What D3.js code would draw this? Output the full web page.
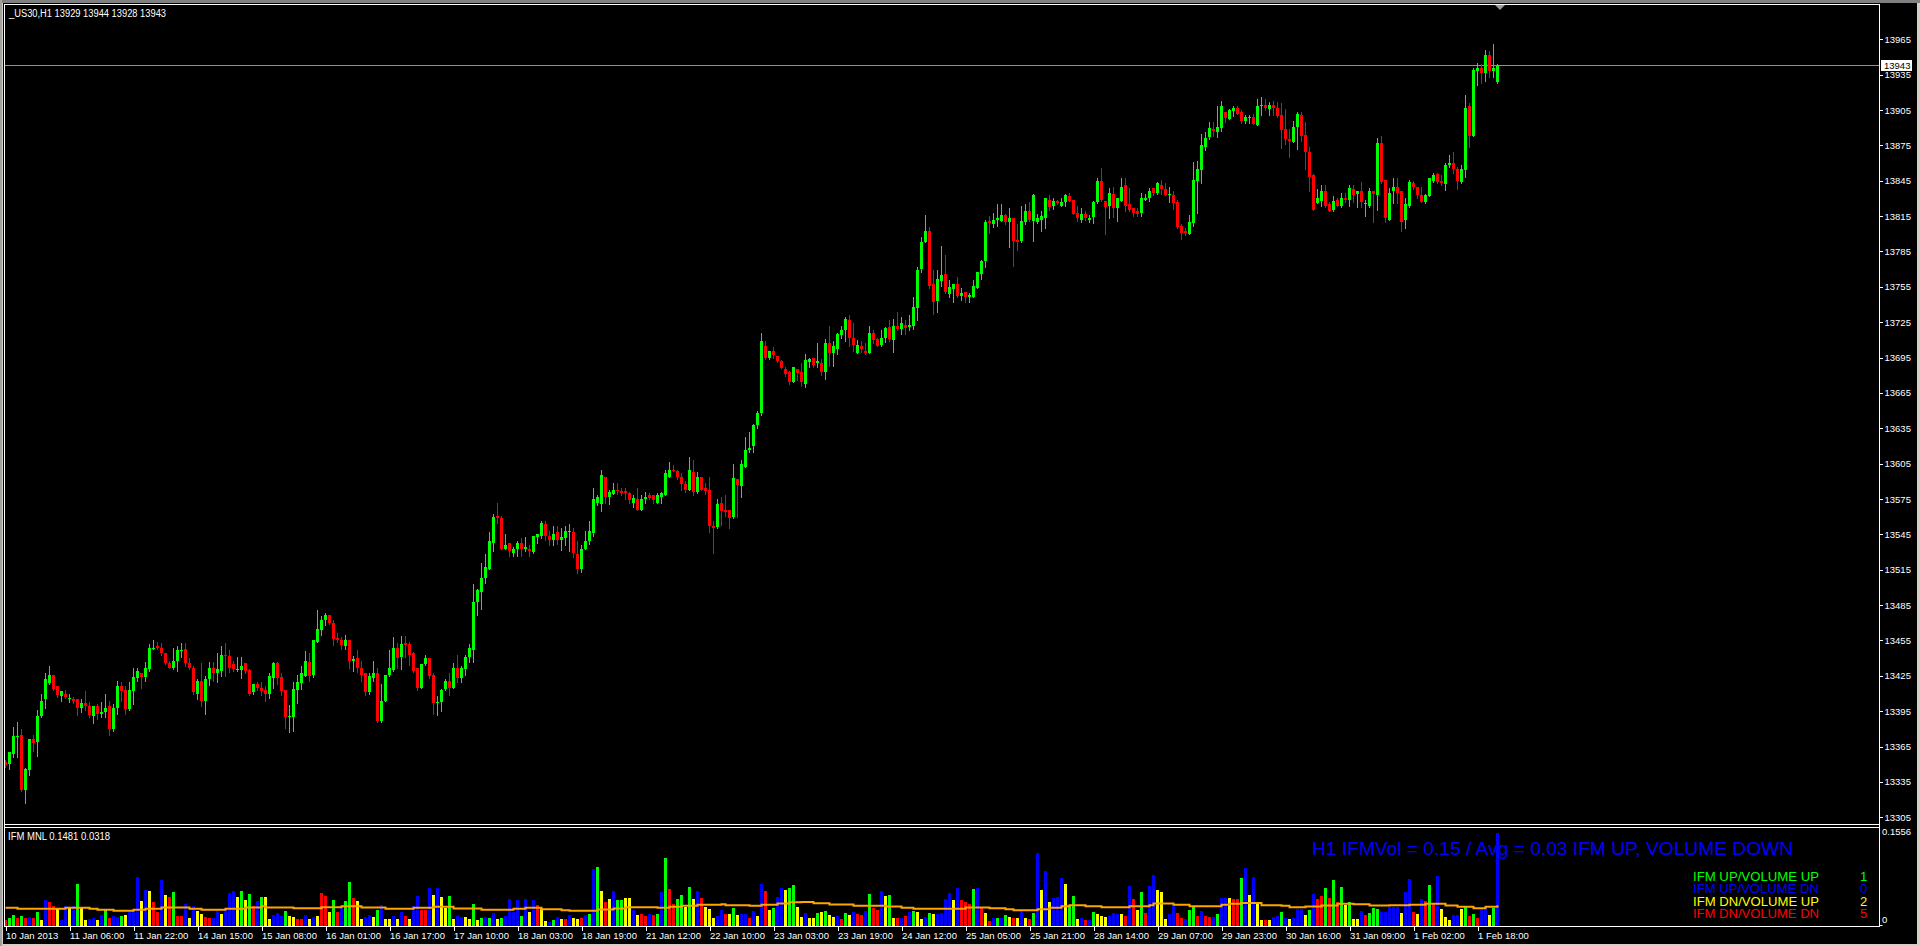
<!DOCTYPE html>
<html><head><meta charset="utf-8">
<script src="https://cdn.jsdelivr.net/npm/d3@7"></script>
<style>
html,body{margin:0;padding:0;background:#d4d0c8;overflow:hidden;}
svg{display:block;}
text{font-family:"Liberation Sans",Arial,sans-serif;}
</style></head><body>
<svg id="chart" width="1920" height="946"></svg>
<script>
// ---------------- DATA ----------------
const symbolTitle = "_US30,H1  13929 13944 13928 13943";
const indicatorTitle = "IFM MNL 0.1481 0.0318";
const statusText = "H1 IFMVol = 0.15 / Avg = 0.03 IFM UP, VOLUME DOWN";
const currentPrice = 13943;

const opens = [
13352,13350,13359,13373,13375,13328,13345,13371,13369,13391,
13405,13419,13426,13416,13408,13410,13405,13405,13405,13398,
13402,13399,13391,13399,13393,13394,13399,13380,13398,13416,
13413,13397,13412,13423,13427,13424,13431,13448,13450,13449,
13444,13436,13432,13438,13446,13448,13436,13432,13410,13421,
13404,13422,13432,13427,13429,13443,13442,13435,13430,13430,
13436,13430,13411,13418,13415,13413,13410,13423,13436,13424,
13413,13390,13390,13413,13419,13425,13437,13426,13454,13464,
13472,13477,13470,13457,13455,13450,13455,13438,13440,13432,
13427,13411,13423,13427,13387,13404,13426,13430,13449,13441,
13453,13452,13444,13432,13415,13435,13440,13426,13402,13403,
13414,13421,13415,13432,13423,13431,13441,13447,13488,13496,
13508,13516,13538,13561,13559,13533,13538,13529,13533,13538,
13533,13533,13530,13543,13544,13554,13544,13540,13547,13540,
13542,13547,13547,13528,13516,13533,13539,13546,13572,13571,
13594,13577,13579,13583,13582,13582,13580,13572,13575,13566,
13575,13578,13578,13572,13577,13578,13594,13600,13599,13594,
13588,13583,13598,13581,13594,13584,13583,13552,13551,13572,
13566,13566,13560,13592,13586,13602,13617,13620,13638,13648,
13705,13695,13701,13696,13692,13685,13683,13674,13685,13683,
13673,13691,13695,13690,13690,13683,13707,13699,13702,13714,
13718,13727,13712,13699,13705,13701,13699,13716,13711,13706,
13712,13721,13710,13722,13719,13723,13721,13722,13737,13770,
13793,13802,13757,13743,13760,13766,13749,13753,13757,13747,
13751,13746,13746,13754,13766,13777,13811,13808,13812,13811,
13816,13810,13813,13795,13794,13810,13819,13811,13810,13812,
13813,13829,13824,13828,13824,13827,13832,13829,13818,13812,
13817,13812,13814,13827,13845,13828,13824,13834,13822,13828,
13841,13825,13822,13819,13818,13829,13830,13839,13835,13841,
13838,13833,13833,13827,13807,13802,13800,13809,13845,13854,
13874,13882,13889,13886,13890,13903,13897,13904,13907,13903,
13896,13898,13899,13892,13908,13909,13906,13909,13907,13901,
13889,13880,13878,13891,13901,13884,13869,13850,13826,13828,
13836,13825,13820,13829,13824,13830,13829,13838,13834,13836,
13825,13824,13836,13833,13877,13846,13812,13836,13840,13836,
13812,13824,13843,13840,13833,13827,13832,13845,13851,13845,
13842,13858,13860,13855,13844,13854,13908,13883,13938,13941,
13936,13952,13938,13929];

const highs = [
13354,13360,13382,13386,13380,13347,13371,13375,13396,13410,
13427,13433,13426,13416,13412,13413,13410,13407,13405,13405,
13412,13403,13399,13401,13403,13410,13404,13401,13421,13420,
13416,13420,13432,13432,13427,13437,13452,13455,13454,13453,
13444,13438,13449,13450,13453,13453,13440,13433,13422,13436,
13425,13437,13437,13444,13450,13453,13447,13438,13441,13441,
13436,13431,13418,13420,13420,13416,13427,13437,13437,13427,
13413,13400,13420,13426,13433,13446,13444,13455,13481,13476,
13478,13477,13472,13461,13458,13460,13455,13442,13447,13438,
13427,13427,13438,13432,13418,13426,13447,13458,13453,13459,
13459,13454,13445,13432,13435,13443,13440,13427,13408,13414,
13422,13427,13436,13443,13433,13443,13452,13503,13499,13521,
13528,13547,13562,13572,13561,13545,13538,13534,13539,13542,
13543,13536,13544,13545,13556,13556,13548,13552,13552,13550,
13552,13554,13550,13539,13536,13548,13556,13584,13578,13600,
13594,13583,13589,13589,13584,13584,13581,13578,13584,13578,
13581,13580,13578,13580,13581,13600,13606,13604,13600,13597,
13590,13611,13608,13598,13594,13589,13594,13556,13575,13577,
13578,13566,13605,13592,13608,13628,13632,13639,13650,13716,
13709,13701,13704,13696,13693,13687,13684,13687,13685,13690,
13698,13695,13695,13707,13694,13711,13722,13709,13716,13722,
13729,13731,13724,13710,13709,13707,13722,13718,13712,13718,
13721,13727,13728,13734,13729,13727,13731,13746,13772,13797,
13816,13806,13769,13769,13790,13782,13761,13757,13763,13754,
13751,13750,13761,13768,13778,13812,13815,13818,13825,13825,
13817,13822,13813,13808,13824,13825,13827,13834,13817,13819,
13830,13833,13830,13829,13830,13834,13835,13829,13824,13822,
13819,13816,13828,13847,13856,13828,13839,13840,13830,13847,
13847,13839,13822,13822,13835,13834,13839,13839,13844,13846,
13843,13840,13836,13829,13808,13805,13816,13861,13862,13885,
13886,13895,13895,13908,13913,13903,13906,13908,13908,13905,
13901,13901,13902,13914,13916,13914,13912,13913,13912,13911,
13906,13889,13896,13903,13903,13895,13874,13851,13838,13841,
13841,13827,13832,13830,13835,13835,13841,13841,13836,13844,
13829,13839,13836,13881,13883,13846,13839,13847,13847,13836,
13830,13846,13845,13840,13840,13834,13847,13852,13852,13850,
13860,13867,13869,13857,13858,13918,13911,13941,13945,13944,
13956,13955,13961,13944];

const lows = [
13348,13346,13356,13356,13327,13317,13341,13361,13357,13390,
13398,13418,13413,13407,13404,13406,13403,13402,13392,13394,
13396,13390,13385,13388,13390,13390,13375,13378,13393,13404,
13393,13396,13401,13421,13415,13421,13429,13448,13448,13443,
13435,13432,13431,13429,13441,13433,13431,13410,13405,13399,
13393,13417,13421,13420,13425,13425,13428,13429,13429,13423,
13427,13409,13410,13413,13409,13404,13406,13415,13418,13409,
13381,13377,13378,13402,13414,13425,13421,13424,13454,13460,
13468,13469,13451,13454,13448,13448,13432,13429,13428,13421,
13409,13410,13421,13386,13386,13404,13425,13429,13432,13431,
13441,13434,13428,13413,13415,13434,13423,13393,13392,13395,
13413,13409,13415,13420,13420,13426,13437,13437,13477,13482,
13504,13516,13531,13555,13533,13533,13527,13527,13527,13527,
13531,13527,13529,13538,13542,13540,13536,13536,13537,13532,
13536,13531,13526,13512,13513,13533,13537,13544,13570,13565,
13572,13571,13579,13579,13578,13575,13572,13568,13566,13566,
13572,13575,13572,13572,13572,13578,13594,13599,13592,13583,
13581,13583,13578,13580,13583,13579,13547,13529,13550,13553,
13561,13550,13559,13560,13577,13602,13615,13615,13635,13646,
13694,13694,13695,13691,13686,13679,13673,13674,13676,13671,
13670,13687,13687,13687,13680,13677,13688,13688,13698,13712,
13709,13705,13701,13699,13700,13698,13699,13707,13705,13705,
13708,13709,13700,13718,13715,13715,13718,13719,13727,13768,
13793,13754,13732,13734,13756,13750,13746,13742,13746,13744,
13742,13742,13746,13754,13762,13772,13801,13806,13807,13811,
13808,13789,13773,13786,13793,13808,13811,13794,13809,13802,
13805,13820,13821,13825,13824,13824,13828,13817,13811,13810,
13812,13810,13809,13826,13828,13800,13813,13814,13811,13828,
13819,13819,13815,13815,13815,13829,13828,13833,13834,13834,
13833,13827,13821,13805,13796,13799,13800,13807,13818,13843,
13871,13880,13883,13882,13887,13895,13897,13900,13902,13894,
13894,13894,13893,13892,13901,13905,13901,13901,13899,13873,
13876,13865,13878,13872,13879,13855,13836,13820,13826,13824,
13823,13819,13819,13824,13823,13827,13824,13827,13823,13823,
13815,13823,13810,13820,13843,13810,13812,13826,13826,13802,
13805,13823,13838,13830,13827,13826,13832,13844,13843,13841,
13837,13857,13852,13838,13843,13848,13874,13883,13926,13928,
13930,13933,13933,13928];

const closes = [
13349,13360,13374,13374,13328,13346,13371,13368,13391,13404,
13422,13426,13414,13409,13412,13407,13406,13404,13398,13402,
13399,13392,13399,13393,13394,13398,13380,13398,13416,13412,
13397,13413,13424,13429,13424,13432,13449,13449,13449,13444,
13436,13432,13438,13447,13447,13436,13432,13411,13421,13404,
13422,13432,13427,13431,13443,13442,13432,13431,13431,13433,
13429,13410,13418,13415,13412,13410,13425,13436,13423,13412,
13390,13391,13414,13420,13427,13438,13425,13455,13465,13472,
13477,13470,13456,13455,13451,13455,13438,13439,13432,13426,
13411,13425,13427,13387,13404,13426,13432,13449,13440,13452,
13451,13443,13429,13415,13435,13440,13425,13402,13403,13413,
13421,13415,13432,13423,13432,13441,13449,13488,13498,13508,
13517,13539,13560,13559,13533,13536,13531,13533,13538,13533,
13534,13531,13544,13545,13555,13544,13540,13545,13540,13543,
13548,13548,13529,13516,13533,13539,13548,13575,13577,13595,
13577,13581,13583,13582,13580,13580,13574,13576,13566,13575,
13577,13576,13574,13578,13580,13597,13600,13599,13594,13588,
13583,13600,13581,13594,13583,13582,13552,13550,13571,13565,
13564,13559,13593,13587,13605,13617,13618,13638,13648,13709,
13695,13701,13697,13692,13686,13681,13674,13687,13682,13674,
13693,13694,13689,13692,13683,13707,13699,13705,13715,13718,
13728,13712,13706,13706,13702,13699,13716,13710,13705,13712,
13720,13711,13722,13719,13724,13720,13723,13738,13769,13793,
13802,13756,13742,13762,13765,13751,13755,13757,13747,13750,
13746,13748,13756,13768,13777,13810,13809,13812,13813,13816,
13810,13813,13794,13793,13811,13819,13812,13833,13813,13815,
13830,13823,13828,13826,13827,13833,13828,13817,13813,13817,
13813,13813,13827,13845,13829,13823,13835,13822,13830,13840,
13824,13820,13818,13817,13830,13830,13836,13835,13843,13838,
13833,13834,13826,13806,13801,13801,13810,13846,13855,13875,
13881,13890,13887,13891,13908,13898,13905,13907,13902,13896,
13899,13899,13893,13908,13909,13907,13909,13907,13900,13888,
13880,13879,13891,13902,13883,13869,13848,13820,13830,13836,
13824,13819,13828,13824,13830,13829,13839,13833,13836,13827,
13826,13836,13834,13877,13844,13813,13835,13840,13835,13810,
13825,13844,13840,13833,13827,13833,13847,13850,13844,13843,
13858,13860,13855,13845,13855,13907,13883,13939,13941,13936,
13952,13938,13941,13943];

// IFM MNL histogram: value per bar, and state per bar
// g = IFM UP/VOLUME UP, b = IFM UP/VOLUME DN, y = IFM DN/VOLUME UP, r = IFM DN/VOLUME DN
const ifmValues = [
.0079,.0116,.0159,.0116,.0143,.0116,.0127,.0111,.0206,.0079,
.0407,.0365,.0302,.0265,.0079,.0302,.0291,.0307,.0651,.0265,
.0079,.0095,.0111,.0079,.0159,.0238,.0106,.0138,.0132,.0138,
.0159,.0201,.0238,.0778,.0381,.0555,.0540,.0370,.0206,.0725,
.0476,.0450,.0529,.0143,.0143,.0333,.0111,.0312,.0227,.0169,
.0122,.0111,.0111,.0222,.0175,.0265,.0513,.0540,.0444,.0540,
.0407,.0492,.0312,.0381,.0444,.0444,.0095,.0153,.0190,.0148,
.0222,.0143,.0127,.0090,.0101,.0159,.0090,.0127,.0143,.0508,
.0460,.0206,.0397,.0206,.0291,.0381,.0682,.0428,.0381,.0095,
.0122,.0153,.0122,.0243,.0328,.0090,.0095,.0143,.0095,.0206,
.0143,.0095,.0312,.0460,.0233,.0233,.0587,.0476,.0598,.0444,
.0280,.0460,.0095,.0143,.0127,.0127,.0095,.0333,.0079,.0111,
.0127,.0111,.0185,.0095,.0111,.0143,.0423,.0206,.0407,.0143,
.0423,.0206,.0397,.0328,.0280,.0063,.0053,.0079,.0122,.0101,
.0095,.0153,.0111,.0101,.0116,.0159,.0175,.0905,.0936,.0540,
.0365,.0413,.0540,.0397,.0397,.0428,.0428,.0238,.0159,
.0175,.0148,.0175,.0159,.0175,.0529,.1069,.0571,.0333,.0413,
.0476,.0286,.0603,.0413,.0540,.0428,.0286,.0254,.0111,.0143,
.0238,.0175,.0175,.0270,.0159,.0175,.0175,.0111,.0222,.0143,
.0651,.0540,.0238,.0270,.0444,.0587,.0555,.0587,.0635,.0286,
.0127,.0190,.0111,.0111,.0190,.0206,.0222,.0159,.0127,.0143,
.0095,.0190,.0159,.0206,.0175,.0159,.0222,.0492,.0270,.0238,
.0540,.0460,.0476,.0111,.0111,.0111,.0143,.0206,.0222,.0206,
.0095,.0127,.0190,.0175,.0175,.0190,.0413,.0508,.0397,.0587,
.0397,.0365,.0333,.0571,.0587,.0270,.0190,.0063,.0111,.0111,
.0111,.0159,.0127,.0111,.0111,.0222,.0111,.0095,.0190,.1159,
.0555,.0873,.0365,.0428,.0444,.0746,.0651,.0302,.0460,.0095,
.0111,.0079,.0079,.0206,.0175,.0143,.0127,.0143,.0190,.0175,
.0175,.0143,.0619,.0413,.0238,.0524,.0190,.0619,.0809,.0555,
.0524,.0095,.0175,.0302,.0190,.0111,.0095,.0238,.0302,.0143,
.0222,.0143,.0127,.0127,.0175,.0428,.0428,.0428,.0413,.0413,
.0746,.0920,.0476,.0778,.0365,.0079,.0079,.0079,.0127,.0143,
.0206,.0111,.0095,.0111,.0254,.0254,.0159,.0238,.0492,.0413,
.0460,.0587,.0428,.0714,.0365,.0603,.0317,.0365,.0095,.0095,
.0222,.0159,.0190,.0270,.0254,.0206,.0206,.0286,.0286,.0286,
.0190,.0524,.0730,.0206,.0175,.0413,.0381,.0635,.0333,.0794,
.0254,.0127,.0079,.0159,.0159,.0254,.0302,.0143,.0175,.0111,
.0270,.0270,.0159,.0270,.1481];

const ifmStates = (
"rggrgrbrgy"+"brrybbybgy"+"ybbybgrbbg"+"ybbbybyrrb"+"yrgrrbybyy"+
"rrbbybbbyg"+"ygrbgyybbb"+"gyyrrbybyr"+"rygrbggryy"+"bbygbyybyb"+
"rybbrrbyby"+"ygybbyygyg"+"bgbygbbbbg"+"bybryybgby"+"rbyyrbgbgy"+
"rybggyyby"+
"rrbrgbgrrg"+"gygybryyyb"+"brygybbrby"+"brygbbyggy"+"ybyygygyyb"+
"rgybrrbgrr"+"bygyrbrbgy"+"ybgybbbbyb"+"rrrgbryrbg"+"bgyrybyrgb"+
"ybybbbyggy"+"brbgyyybbb"+"yrbrygrbby"+"yybbrrbggr"+"brrbgbbyrr"+
"gbybyyrybb"+
"gbybbbygbr"+"rgrgrgygyy"+"brgggbbbbb"+"ybbrybrgrb"+"yyybbygrgr"+
"bbygb").split("");

// average line (orange): bar index where level starts, and level
const avgBars = [0,3,15,21,23,27,32,35,39,46,49,55,60,64,65,72,79,84,89,95,102,107,112,119,127,130,134,139,141,148,152,155,
159,163,166,169,173,179,180,186,189,193,196,199,202,206,212,220,224,227,240,246,250,252,258,261,264,266,270,274,281,286,287,292,296,304,306,309,314,
319,321,325,329,333,337,341,346,351,355,360,363,367,370,373];
const avgValues = [.0275,.0259,.0275,.0259,.0243,.0227,.0243,.0259,.0280,.0259,.0243,.0259,.0280,.0302,.0280,.0270,.0286,.0302,.0280,.0259,.0275,.0291,.0265,.0243,.0259,.0275,.0254,.0238,.0227,.0249,.0265,.0286,
.0286,.0275,.0291,.0307,.0323,.0333,.0317,.0307,.0323,.0344,.0365,.0370,.0349,.0328,.0307,.0296,.0275,.0259,.0280,.0270,.0254,.0238,.0254,.0275,.0302,.0317,.0302,.0286,.0302,.0317,.0344,.0323,.0302,.0323,.0339,.0354,.0317,
.0307,.0286,.0296,.0312,.0339,.0333,.0312,.0317,.0323,.0339,.0312,.0291,.0270,.0291,.0318];

const priceTicks = [13305,13335,13365,13395,13425,13455,13485,13515,13545,13575,13605,13635,13665,13695,13725,13755,13785,13815,13845,13875,13905,13935,13965];
const timeLabels = ["10 Jan 2013","11 Jan 06:00","11 Jan 22:00","14 Jan 15:00","15 Jan 08:00","16 Jan 01:00","16 Jan 17:00","17 Jan 10:00","18 Jan 03:00","18 Jan 19:00",
"21 Jan 12:00","22 Jan 10:00","23 Jan 03:00","23 Jan 19:00","24 Jan 12:00","25 Jan 05:00","25 Jan 21:00","28 Jan 14:00","29 Jan 07:00","29 Jan 23:00",
"30 Jan 16:00","31 Jan 09:00","1 Feb 02:00","1 Feb 18:00"];
const legendLabels = ["IFM UP/VOLUME UP","IFM UP/VOLUME DN","IFM DN/VOLUME UP","IFM DN/VOLUME DN"];
const legendCounts = ["1","0","2","5"];
const ifmMax = 0.1556;

// ---------------- DRAW ----------------
const stateColor = {g:"#00ff00", b:"#0000ff", y:"#ffff00", r:"#ff0000"};
const legendColors = ["#00ff00","#0000ff","#ffff00","#ff0000"];
const svg = d3.select("#chart");
const n = opens.length;

// frame
svg.append("rect").attr("x",0).attr("y",0).attr("width",1920).attr("height",946).attr("fill","#d4d0c8");
svg.append("rect").attr("x",0).attr("y",0).attr("width",1920).attr("height",3).attr("fill","#808080");
svg.append("rect").attr("x",0).attr("y",0).attr("width",2).attr("height",946).attr("fill","#a0a0a0");
svg.append("rect").attr("x",3).attr("y",3).attr("width",1914).attr("height",941).attr("fill","#000");

const PL = 4.5, PR = 1879.5, MT = 4.5, MB = 824.5, IT = 827.5, IB = 926.5;

const x = d3.scaleLinear().domain([0, 373]).range([5.5, 1497.5]);
const y = d3.scaleLinear().domain([13305, 13965]).range([817.3, 39.3]);
const yv = d3.scaleLinear().domain([0, ifmMax]).range([925, 828]);

const defs = svg.append("defs");
defs.append("clipPath").attr("id","mainClip").append("rect").attr("x",5).attr("y",5).attr("width",1874).attr("height",819);
defs.append("clipPath").attr("id","indClip").append("rect").attr("x",5).attr("y",828).attr("width",1874).attr("height",98);

const main = svg.append("g").attr("clip-path","url(#mainClip)").attr("shape-rendering","crispEdges");

// current price line
main.append("line").attr("x1",PL).attr("x2",PR).attr("y1",Math.round(y(currentPrice))+0.5).attr("y2",Math.round(y(currentPrice))+0.5)
  .attr("stroke","#8493a6").attr("stroke-width",1);

const idx = d3.range(n);
const candle = main.selectAll("g.c").data(idx).join("g").attr("class","c");
candle.append("rect")
  .attr("x", i => x(i) - 0.5)
  .attr("width", 1)
  .attr("y", i => Math.round(y(highs[i])))
  .attr("height", i => Math.max(1, Math.round(y(lows[i])) - Math.round(y(highs[i])) + 1))
  .attr("fill", i => closes[i] >= opens[i] ? "#00ff00" : "#ff0000");
candle.append("rect")
  .attr("x", i => x(i) - 1.5)
  .attr("width", 3)
  .attr("y", i => Math.round(y(Math.max(opens[i], closes[i]))))
  .attr("height", i => Math.max(1, Math.round(y(Math.min(opens[i], closes[i]))) - Math.round(y(Math.max(opens[i], closes[i])))))
  .attr("fill", i => closes[i] >= opens[i] ? "#00ff00" : "#ff0000");

// title
svg.append("text").attr("x",9).attr("y",16.5).attr("fill","#fff").attr("font-size","10px")
  .attr("textLength",157).attr("lengthAdjust","spacingAndGlyphs").text(symbolTitle);

// chart shift marker
svg.append("path").attr("d","M1495,5 L1505,5 L1500,10 Z").attr("fill","#9a9a9a");

// indicator
const ind = svg.append("g").attr("clip-path","url(#indClip)").attr("shape-rendering","crispEdges");
ind.selectAll("rect.v").data(idx).join("rect").attr("class","v")
  .attr("x", i => x(i) - 1.5)
  .attr("width", 3)
  .attr("y", i => Math.round(yv(ifmValues[i] || 0)))
  .attr("height", i => 925 - Math.round(yv(ifmValues[i] || 0)) + 1)
  .attr("fill", i => stateColor[ifmStates[i]] || "#0000ff");

const avgPts = avgBars.map((b,k) => [b, avgValues[k]]);
svg.append("path").datum(avgPts)
  .attr("d", d3.line().x(d => x(d[0])).y(d => yv(d[1])).curve(d3.curveStepAfter))
  .attr("fill","none").attr("stroke","#ffa500").attr("stroke-width",2);

svg.append("text").attr("x",8).attr("y",839.5).attr("fill","#fff").attr("font-size","10px")
  .attr("textLength",102).attr("lengthAdjust","spacingAndGlyphs").text(indicatorTitle);

svg.append("text").attr("x",1312).attr("y",855).attr("fill","#0000ff").attr("font-size","19px")
  .attr("textLength",481).attr("lengthAdjust","spacingAndGlyphs").text(statusText);

const lg = svg.append("g").attr("font-family","'Liberation Mono','Courier New',monospace").attr("font-size","13px");
legendLabels.forEach((t,k) => {
  const yy = 880.5 + k*12.6;
  lg.append("text").attr("x",1693).attr("y",yy).attr("fill",legendColors[k]).attr("textLength",126).attr("lengthAdjust","spacingAndGlyphs").text(t);
  lg.append("text").attr("x",1860).attr("y",yy).attr("fill",legendColors[k]).text(legendCounts[k]);
});

// borders
const b = svg.append("g").attr("stroke","#fff").attr("stroke-width",1).attr("fill","none").attr("shape-rendering","crispEdges");
b.append("path").attr("d",`M${PL},${MT} H${PR} V${IB} H${PL} Z`);
b.append("line").attr("x1",PL).attr("x2",PR).attr("y1",MB).attr("y2",MB);
b.append("line").attr("x1",PL).attr("x2",PR).attr("y1",IT).attr("y2",IT);

// price axis
const ay = svg.append("g").attr("transform",`translate(${PR},0)`)
  .call(d3.axisRight(y).tickValues(priceTicks).tickSize(3).tickPadding(2).tickFormat(d3.format("d")));
ay.select(".domain").remove();
ay.selectAll("line").attr("stroke","#fff").attr("shape-rendering","crispEdges");
ay.selectAll("text").attr("fill","#fff").attr("font-size","9.5px").attr("font-family","'Liberation Sans',Arial,sans-serif");

// current price box
const cpY = Math.round(y(currentPrice));
svg.append("rect").attr("x",1881).attr("y",cpY-5).attr("width",31).attr("height",11).attr("fill","#fff");
svg.append("text").attr("x",1884).attr("y",cpY+3.5).attr("fill","#000").attr("font-size","9.5px").text(d3.format("d")(currentPrice));

// indicator scale labels
svg.append("text").attr("x",1882).attr("y",835).attr("fill","#fff").attr("font-size","9.5px").text(d3.format(".4f")(ifmMax));
svg.append("text").attr("x",1882).attr("y",922.5).attr("fill","#fff").attr("font-size","9.5px").text("0");
svg.append("line").attr("x1",PR).attr("x2",PR+3).attr("y1",yv(0)+0.5).attr("y2",yv(0)+0.5).attr("stroke","#fff");

// time axis
const labelBars = timeLabels.map((_,k) => k*16);
const ax = svg.append("g").attr("transform",`translate(0,${IB})`)
  .call(d3.axisBottom(x).tickValues(labelBars).tickSize(4).tickPadding(2).tickFormat((d,k) => timeLabels[k]));
ax.select(".domain").remove();
ax.selectAll("line").attr("stroke","#fff").attr("shape-rendering","crispEdges");
ax.selectAll("text").attr("fill","#fff").attr("font-size","9.5px").attr("text-anchor","start").attr("x",0)
  .attr("font-family","'Liberation Sans',Arial,sans-serif");
</script>
</body></html>
